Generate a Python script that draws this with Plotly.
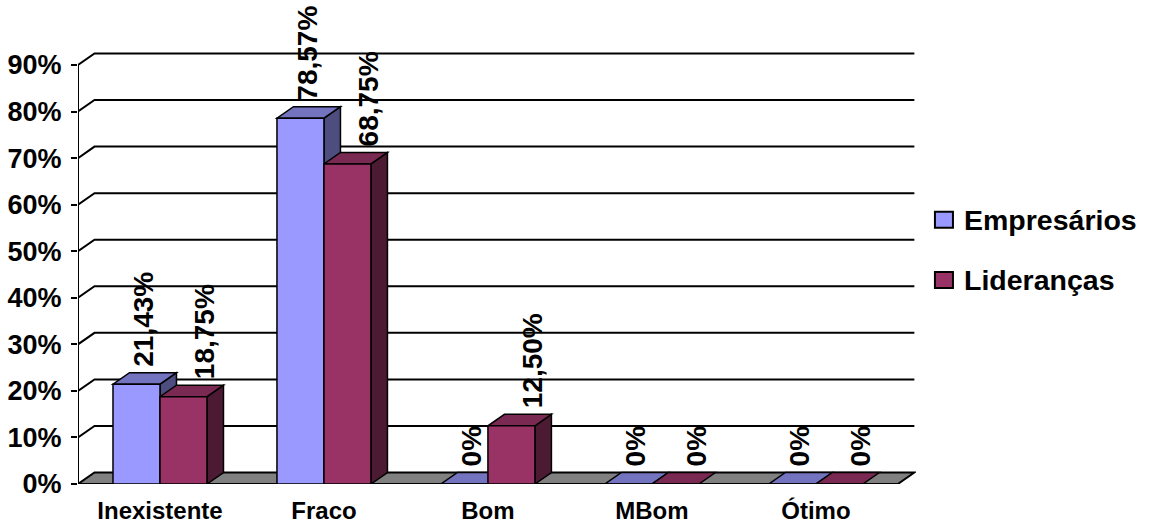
import plotly.graph_objects as go

# ---- data -------------------------------------------------------------
categories = ["Inexistente", "Fraco", "Bom", "MBom", "Ótimo"]
series_names = ["Empresários", "Lideranças"]
empresarios = [21.43, 78.57, 0, 0, 0]
liderancas = [18.75, 68.75, 12.50, 0, 0]
y_ticks = [0, 10, 20, 30, 40, 50, 60, 70, 80, 90]
y_tick_labels = [f"{t}%" for t in y_ticks]

# ---- styling ----------------------------------------------------------
FONT = "Liberation Sans, Arial, sans-serif"
BAR_W = 0.2866          # width of one column, in category units
DX = 0.1006             # depth offset of the 3-D look, in category units
DY = 2.47               # depth offset of the 3-D look, in percent units
FRONT = ["#9999FF", "#993366"]
TOP = ["#7373C0", "#7A2952"]
SIDE = ["#4D4D80", "#4D1A33"]
LABEL_XSHIFT = [7, 21]
LABEL_YSHIFT = 4

# legend block, in paper coordinates
LEG_X = 1.0226          # left edge of the swatches
LEG_Y = [0.6090, 0.4700]  # vertical centre of each entry
LEG_SW = 0.0215         # swatch width (paper x units)
LEG_SH = 0.0370         # swatch height (paper y units)

n = len(categories)
x_left, x_right = -0.5, n - 0.5
series_values = [empresarios, liderancas]


def path(points):
    return "M " + " L ".join(f"{x},{y}" for x, y in points) + " Z"


def label_text(v):
    return "0%" if v == 0 else f"{v:.2f}".replace(".", ",") + "%"


fig = go.Figure()

# front faces of the columns
for k, (name, vals) in enumerate(zip(series_names, series_values)):
    fig.add_trace(go.Bar(
        x=list(range(n)), y=vals, name=name,
        width=BAR_W, offset=-BAR_W if k == 0 else 0,
        marker=dict(color=FRONT[k], line=dict(color="black", width=1.5)),
        hoverinfo="skip", showlegend=False,
    ))

shapes = []
# back-wall gridlines (diagonal from the value axis, then along the wall)
for t in y_ticks[1:]:
    shapes.append(dict(
        type="path", xref="x", yref="y", layer="below",
        path=f"M {x_left},{t} L {x_left + DX},{t + DY} L {x_right + DX},{t + DY}",
        line=dict(color="black", width=2),
    ))

# floor
shapes.append(dict(
    type="path", xref="x", yref="y", layer="below",
    path=path([(x_left, 0), (x_right, 0), (x_right + DX, DY), (x_left + DX, DY)]),
    fillcolor="#808080", line=dict(color="black", width=2),
))

# side and top faces of the columns
for i in range(n):
    for k, vals in enumerate(series_values):
        v = vals[i]
        xl = i - BAR_W if k == 0 else i
        xr = xl + BAR_W
        if v > 0:
            shapes.append(dict(
                type="path", xref="x", yref="y", layer="below",
                path=path([(xr, 0), (xr + DX, DY), (xr + DX, v + DY), (xr, v)]),
                fillcolor=SIDE[k], line=dict(color="black", width=1.5),
            ))
        shapes.append(dict(
            type="path", xref="x", yref="y", layer="below",
            path=path([(xl, v), (xr, v), (xr + DX, v + DY), (xl + DX, v + DY)]),
            fillcolor=TOP[k], line=dict(color="black", width=1.5),
        ))

# value axis line
shapes.append(dict(
    type="line", xref="x", yref="y", layer="above",
    x0=x_left, x1=x_left, y0=0, y1=y_ticks[-1],
    line=dict(color="black", width=2),
))

# rotated value labels above each column
annotations = []
for k, vals in enumerate(series_values):
    for i, v in enumerate(vals):
        xc = i - BAR_W / 2 if k == 0 else i + BAR_W / 2
        annotations.append(dict(
            x=xc, y=v + DY, xref="x", yref="y",
            text=label_text(v), textangle=-90, showarrow=False,
            xanchor="center", yanchor="bottom",
            xshift=LABEL_XSHIFT[k], yshift=LABEL_YSHIFT,
            font=dict(family=FONT, size=28, color="black", weight="bold"),
        ))

# legend: coloured swatch plus series name
for k, name in enumerate(series_names):
    shapes.append(dict(
        type="rect", xref="paper", yref="paper", layer="above",
        x0=LEG_X, x1=LEG_X + LEG_SW,
        y0=LEG_Y[k] - LEG_SH / 2, y1=LEG_Y[k] + LEG_SH / 2,
        fillcolor=FRONT[k], line=dict(color="black", width=2),
    ))
    annotations.append(dict(
        x=LEG_X + LEG_SW + 0.0110, y=LEG_Y[k], xref="paper", yref="paper",
        text=name, showarrow=False, xanchor="left", yanchor="middle",
        font=dict(family=FONT, size=28.5, color="black", weight="bold"),
    ))

fig.update_layout(
    width=1150, height=524,
    margin=dict(l=78, r=234, t=50, b=40, autoexpand=False),
    paper_bgcolor="white", plot_bgcolor="white",
    barmode="overlay",
    shapes=shapes, annotations=annotations,
    showlegend=False,
    xaxis=dict(
        range=[x_left, x_right + DX + 0.01], automargin=False,
        tickmode="array", tickvals=list(range(n)), ticktext=categories,
        ticks="", showgrid=False, zeroline=False, showline=False,
        tickfont=dict(family=FONT, size=24, color="black", weight="bold"),
        ticklabelstandoff=10,
    ),
    xaxis2=dict(
        overlaying="x", anchor="y", side="bottom", automargin=False,
        range=[x_left, x_right + DX + 0.01],
        tickmode="array", tickvals=[x_left + j for j in range(n + 1)],
        ticks="outside", ticklen=8, tickwidth=2, tickcolor="black",
        showticklabels=False, showgrid=False, zeroline=False, showline=False,
    ),
    yaxis=dict(
        range=[0, 93.22], automargin=False,
        tickmode="array", tickvals=y_ticks, ticktext=y_tick_labels,
        ticks="outside", ticklen=6, tickwidth=2, tickcolor="black",
        showgrid=False, zeroline=False, showline=False,
        tickfont=dict(family=FONT, size=27, color="black", weight="bold"),
        ticklabelstandoff=4,
    ),
)

fig.write_html("out.html")
